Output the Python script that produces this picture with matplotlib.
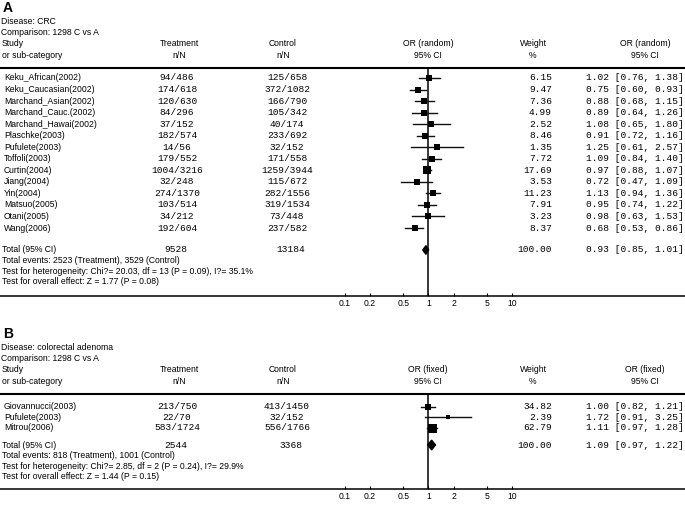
import numpy as np
import matplotlib.pyplot as plt

# ---- data: panel A (CRC, random effects)
studies_a = ['Keku_African(2002)', 'Keku_Caucasian(2002)', 'Marchand_Asian(2002)',
             'Marchand_Cauc.(2002)', 'Marchand_Hawai(2002)', 'Plaschke(2003)',
             'Pufulete(2003)', 'Toffoli(2003)', 'Curtin(2004)', 'Jiang(2004)',
             'Yin(2004)', 'Matsuo(2005)', 'Otani(2005)', 'Wang(2006)']
trt_n_a = [94, 174, 120, 84, 37, 182, 14, 179, 1004, 32, 274, 103, 34, 192]
trt_N_a = [486, 618, 630, 296, 152, 574, 56, 552, 3216, 248, 1370, 514, 212, 604]
ctl_n_a = [125, 372, 166, 105, 40, 233, 32, 171, 1259, 115, 282, 319, 73, 237]
ctl_N_a = [658, 1082, 790, 342, 174, 692, 152, 558, 3944, 672, 1556, 1534, 448, 582]
weight_a = [6.15, 9.47, 7.36, 4.99, 2.52, 8.46, 1.35, 7.72, 17.69, 3.53, 11.23, 7.91, 3.23, 8.37]
or_a = [1.02, 0.75, 0.88, 0.89, 1.08, 0.91, 1.25, 1.09, 0.97, 0.72, 1.13, 0.95, 0.98, 0.68]
lo_a = [0.76, 0.60, 0.68, 0.64, 0.65, 0.72, 0.61, 0.84, 0.88, 0.47, 0.94, 0.74, 0.63, 0.53]
hi_a = [1.38, 0.93, 1.15, 1.26, 1.80, 1.16, 2.57, 1.40, 1.07, 1.09, 1.36, 1.22, 1.53, 0.86]
total_a = [9528, 13184, 0.93, 0.85, 1.01]
events_a = [2523, 3529]
het_a = 'Test for heterogeneity: Chi?= 20.03, df = 13 (P = 0.09), I?= 35.1%'
eff_a = 'Test for overall effect: Z = 1.77 (P = 0.08)'

# ---- data: panel B (colorectal adenoma, fixed effects)
studies_b = ['Giovannucci(2003)', 'Pufulete(2003)', 'Mitrou(2006)']
trt_n_b = [213, 22, 583]
trt_N_b = [750, 70, 1724]
ctl_n_b = [413, 32, 556]
ctl_N_b = [1450, 152, 1766]
weight_b = [34.82, 2.39, 62.79]
or_b = [1.00, 1.72, 1.11]
lo_b = [0.82, 0.91, 0.97]
hi_b = [1.21, 3.25, 1.28]
total_b = [2544, 3368, 1.09, 0.97, 1.22]
events_b = [818, 1001]
het_b = 'Test for heterogeneity: Chi?= 2.85, df = 2 (P = 0.24), I?= 29.9%'
eff_b = 'Test for overall effect: Z = 1.44 (P = 0.15)'

ticks = [0.1, 0.2, 0.5, 1, 2, 5, 10]

W, H = 685, 508
SANS = 'Liberation Sans'
MONO = 'Liberation Mono'
FS = 6.25
FM = 6.8

fig = plt.figure(figsize=(W / 100, H / 100), dpi=100)
bg = fig.add_axes([0, 0, 1, 1])
bg.set_xlim(0, W)
bg.set_ylim(H, 0)
bg.axis('off')

# log scale: OR=1 at x=428.5 px, 83.5 px per decade
X1, DEC = 428.5, 83.5
xl = 10 ** (-X1 / DEC)
xr = 10 ** ((W - X1) / DEC)


def sans(x, y, s, **kw):
    bg.text(x, y, s, family=SANS, fontsize=FS, va='center', **kw)


def mono(x, y, s, **kw):
    bg.text(x, y, s, family=MONO, fontsize=FM, va='center', **kw)


def panel(letter, disease, model, studies, tn, tN, cn, cN, w, orv, lo, hi,
          total, events, het, eff, sep, row0, step, tot_y, axis_y, max_side, min_side, dh):
    # header
    bg.text(3, sep - 60, letter, family=SANS, fontsize=10, fontweight='bold', va='center')
    sans(1, sep - 46.5, 'Disease: ' + disease)
    sans(1, sep - 35.5, 'Comparison: 1298 C vs A')
    sans(2, sep - 24.5, 'Study')
    sans(2, sep - 12.5, 'or sub-category')
    for x, a, b in [(179, 'Treatment', 'n/N'), (283, 'Control', 'n/N'),
                    (428, 'OR (%s)' % model, '95% CI'), (533, 'Weight', '%'),
                    (645, 'OR (%s)' % model, '95% CI')]:
        sans(x, sep - 24, a, ha='center')
        sans(x, sep - 12.5, b, ha='center')

    ys = [row0 + step * i for i in range(len(studies))]
    for i, y in enumerate(ys):
        sans(4, y, studies[i])
        mono(177, y, '%d/%d' % (tn[i], tN[i]), ha='center')
        mono(287, y, '%d/%d' % (cn[i], cN[i]), ha='center')
        mono(552, y, '%.2f' % w[i], ha='right')
        mono(586, y, '%.2f [%.2f, %.2f]' % (orv[i], lo[i], hi[i]))

    sans(2, tot_y, 'Total (95% CI)')
    mono(176, tot_y, '%d' % total[0], ha='center')
    mono(291, tot_y, '%d' % total[1], ha='center')
    mono(552, tot_y, '100.00', ha='right')
    mono(586, tot_y, '%.2f [%.2f, %.2f]' % (total[2], total[3], total[4]))
    sans(2, tot_y + 10.6, 'Total events: %d (Treatment), %d (Control)' % (events[0], events[1]))
    sans(2, tot_y + 21.2, het)
    sans(2, tot_y + 31.8, eff)

    # forest axes
    ax = fig.add_axes([0, 1 - axis_y / H, 1, (axis_y - sep) / H])
    ax.patch.set_visible(False)
    ax.set_xscale('log')
    ax.set_xlim(xl, xr)
    ax.set_ylim(axis_y, sep)
    for s in ['left', 'right']:
        ax.spines[s].set_visible(False)
    ax.spines['top'].set_linewidth(1.5)
    ax.spines['bottom'].set_linewidth(1.1)
    ax.set_yticks([])
    ax.set_xticks(ticks)
    ax.set_xticklabels([('%g' % t) for t in ticks], family=SANS, fontsize=FS)
    ax.minorticks_off()
    ax.tick_params(axis='x', direction='in', length=2.5, width=0.8, pad=2.5)
    ax.axvline(1, color='black', lw=1.1)

    wmax = max(w)
    for i, y in enumerate(ys):
        ax.plot([lo[i], hi[i]], [y, y], color='#111111', lw=1.0)
        side = max(min_side, max_side * np.sqrt(w[i] / wmax))
        ax.plot(orv[i], y, marker='s', color='black', ms=side * 0.72, mew=0)

    ax.fill([total[3], total[2], total[4], total[2]],
            [tot_y, tot_y - dh, tot_y, tot_y + dh], color='black', lw=0.8, ec='black')


panel('A', 'CRC', 'random', studies_a, trt_n_a, trt_N_a, ctl_n_a, ctl_N_a,
      weight_a, or_a, lo_a, hi_a, total_a, events_a, het_a, eff_a,
      sep=68, row0=78, step=11.54, tot_y=250, axis_y=296,
      max_side=7.5, min_side=5.5, dh=4.5)

panel('B', 'colorectal adenoma', 'fixed', studies_b, trt_n_b, trt_N_b, ctl_n_b, ctl_N_b,
      weight_b, or_b, lo_b, hi_b, total_b, events_b, het_b, eff_b,
      sep=394, row0=406.7, step=10.5, tot_y=445, axis_y=488.5,
      max_side=9, min_side=3.5, dh=5)

fig.savefig('out.png', dpi=100)
